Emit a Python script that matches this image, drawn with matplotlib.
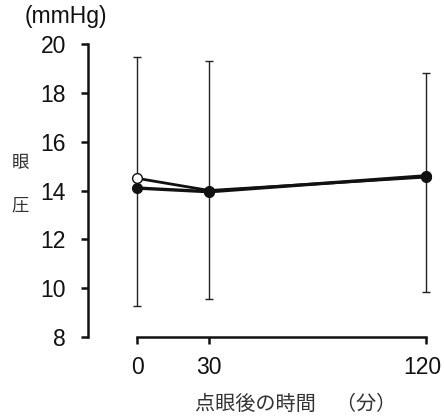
import numpy as np
import matplotlib
matplotlib.use("Agg")
from matplotlib import pyplot as plt

plt.rcParams['font.family'] = ['Liberation Sans', 'Noto Sans CJK JP']

# region: data
times = [0, 30, 120]
open_mean = [14.5, 14.0, 14.55]
filled_mean = [14.1, 13.95, 14.6]
err_upper = [19.45, 19.3, 18.8]
err_lower = [9.25, 9.55, 9.85]
yticks = [8, 10, 12, 14, 16, 18, 20]
# endregion

fig = plt.figure(figsize=(4.44, 4.20), dpi=100)
ax = fig.add_axes([88/444, 83/420, 352/444, 293/420])

ax.set_xlim(-20.35, 125.8)
ax.set_ylim(8, 20)

mean_arr = np.array(filled_mean)
yerr = [mean_arr - np.array(err_lower), np.array(err_upper) - mean_arr]
ax.errorbar(times, filled_mean, yerr=yerr, fmt='none', ecolor='#222222',
            elinewidth=1.0, capsize=3, capthick=1.0, zorder=1)

ax.plot(times, open_mean, color='#111111', lw=2.0, marker='o', ms=7,
        mfc='white', mec='#111111', mew=1.0, zorder=3)
ax.plot(times, filled_mean, color='#111111', lw=2.4, marker='o', ms=7,
        mfc='#111111', mec='#111111', zorder=4)

for s in ['top', 'right']:
    ax.spines[s].set_visible(False)
ax.spines['left'].set_bounds(8, 20)
ax.spines['bottom'].set_bounds(0, 120)
for s in ['left', 'bottom']:
    ax.spines[s].set_linewidth(1.8)
    ax.spines[s].set_color('#111111')

ax.set_yticks(yticks)
ax.set_xticks(times)
ax.tick_params(axis='both', direction='out', length=5, width=1.8,
               color='#111111', labelsize=16.5, labelcolor='#111111')
ax.tick_params(axis='y', pad=11)
ax.tick_params(axis='x', pad=9)
# last label sits a touch left of its tick, as in the print
ax.get_xticklabels()[-1].set_horizontalalignment('right')
ax.get_xticklabels()[-1].set_x(120)
lbl = ax.get_xticklabels()[-1]
lbl.set_horizontalalignment('center')
from matplotlib.transforms import ScaledTranslation
lbl.set_transform(lbl.get_transform() + ScaledTranslation(-4/100, 0, fig.dpi_scale_trans))

fig.text(66/444, 1 - 16/420, '(mmHg)', ha='center', va='center', fontsize=16.5, color='#111111')
fig.text(20/444, 1 - 163/420, '眼', ha='center', va='center', fontsize=12.5,
         family=['Noto Sans CJK JP'], color='#333333')
fig.text(20/444, 1 - 205/420, '圧', ha='center', va='center', fontsize=12.5,
         family=['Noto Sans CJK JP'], color='#333333')
fig.text(296/444, 1 - 404/420, '点眼後の時間　（分）', ha='center', va='center', fontsize=14.5,
         family=['Noto Sans CJK JP'], color='#333333')

fig.savefig('out.png', dpi=100)
